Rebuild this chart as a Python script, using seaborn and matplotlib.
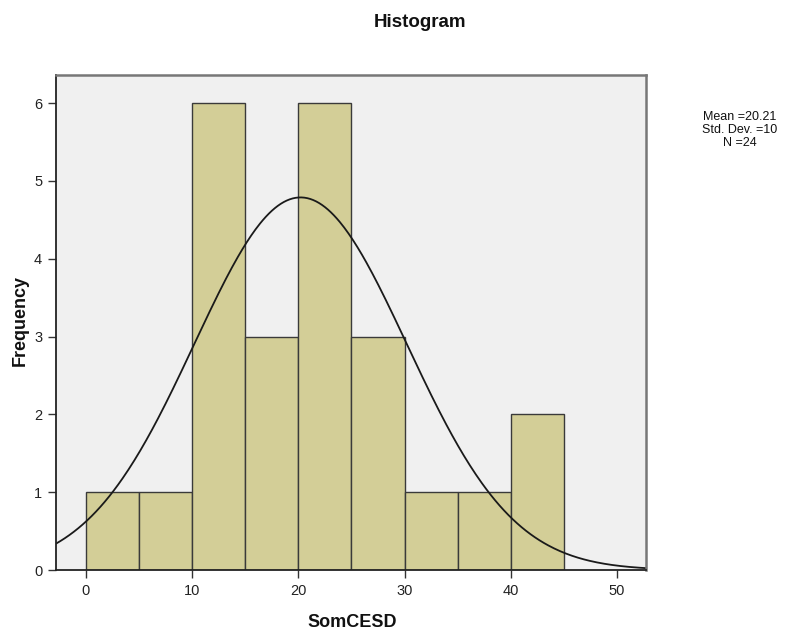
import numpy as np
import pandas as pd
import matplotlib
matplotlib.use("Agg")
import matplotlib.pyplot as plt
import seaborn as sns

# Data
bin_edges = [0, 5, 10, 15, 20, 25, 30, 35, 40, 45]
counts = [1, 1, 6, 3, 6, 3, 1, 1, 2]
mean_val = 20.21
std_val = 10.0
n_val = 24
x_ticks = [0, 10, 20, 30, 40, 50]
y_ticks = [0, 1, 2, 3, 4, 5, 6]

sns.set_style("white")
plt.rcParams['font.family'] = ['Liberation Sans', 'DejaVu Sans']

fig = plt.figure(figsize=(7.97, 6.34), dpi=100)
ax = fig.add_axes([0.0703, 0.1009, 0.740, 0.7808])
ax.set_facecolor("#F0F0F0")

centers = [(bin_edges[i] + bin_edges[i + 1]) / 2 for i in range(len(counts))]
df = pd.DataFrame({"SomCESD": centers, "count": counts})
sns.histplot(data=df, x="SomCESD", weights="count", bins=bin_edges, ax=ax,
             color="#D3CE97", alpha=1.0, edgecolor="#3A3A3A", linewidth=1.0)

xs = np.linspace(-2.8, 52.7, 400)
binw = bin_edges[1] - bin_edges[0]
ys = n_val * binw / (std_val * np.sqrt(2 * np.pi)) * np.exp(-0.5 * ((xs - mean_val) / std_val) ** 2)
sns.lineplot(x=xs, y=ys, ax=ax, color="#1A1A1A", linewidth=1.3)

ax.set_xlim(-2.8, 52.7)
ax.set_ylim(0, 6.36)
ax.set_xticks(x_ticks)
ax.set_yticks(y_ticks)
ax.tick_params(axis="both", which="both", length=6, width=1, color="#333333",
               labelsize=10.5, labelcolor="#222222", direction="out",
               bottom=True, left=True, pad=4)
for side in ["left", "bottom"]:
    ax.spines[side].set_color("#222222")
    ax.spines[side].set_linewidth(1.3)
for side in ["top", "right"]:
    ax.spines[side].set_color("#777777")
    ax.spines[side].set_linewidth(1.8)
ax.set_xlabel("")
ax.set_ylabel("")

fig.text(0.527, 0.965, "Histogram", ha="center", va="center", fontsize=13.5,
         fontweight="bold", color="#111111")
fig.text(0.442, 0.018, "SomCESD", ha="center", va="center", fontsize=13,
         fontweight="bold", color="#111111")
fig.text(0.025, 0.495, "Frequency", ha="center", va="center", fontsize=13,
         fontweight="bold", color="#111111", rotation=90)
fig.text(0.928, 0.795, "Mean =20.21\nStd. Dev. =10\nN =24", ha="center", va="center",
         fontsize=9, color="#111111", linespacing=1.1)

fig.savefig("out.png", dpi=100)
